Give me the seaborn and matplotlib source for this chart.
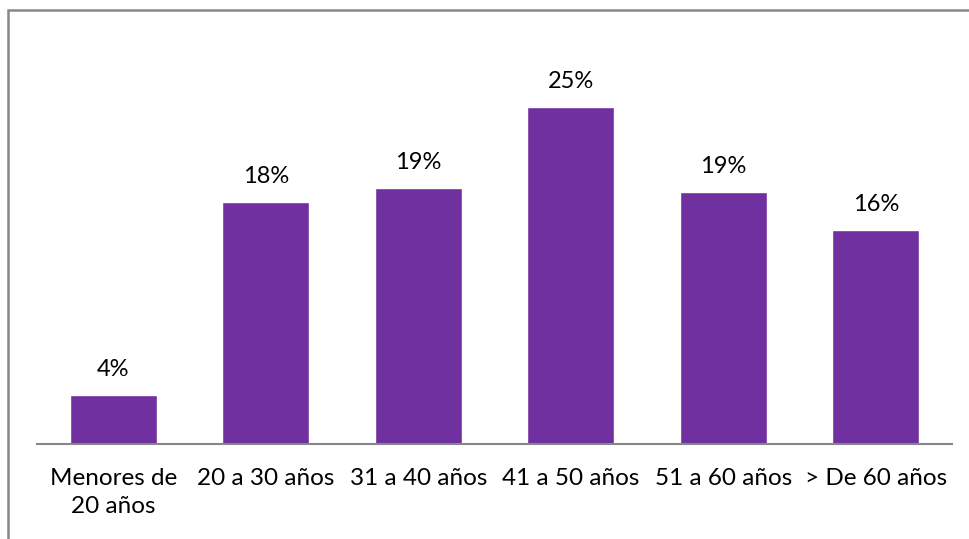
import matplotlib
matplotlib.use("Agg")
import matplotlib.pyplot as plt
from matplotlib.patches import Rectangle
import seaborn as sns
import pandas as pd

# Age groups and their share of respondents (%)
categories = ["Menores de\n20 años", "20 a 30 años", "31 a 40 años",
              "41 a 50 años", "51 a 60 años", "> De 60 años"]
shares = [3.64, 17.95, 18.99, 25.0, 18.71, 15.87]

bar_color = "#7030A0"
line_gray = "#878787"

sns.set_theme(style="white")
plt.rcParams["font.family"] = ["Lato", "DejaVu Sans"]

W, H = 970, 539
fig = plt.figure(figsize=(W / 100, H / 100), dpi=100)

# plot area in pixel terms
left_px, right_px, base_px, top_px = 37, 952, 444, 20
ax = fig.add_axes([left_px / W, 1 - base_px / H,
                   (right_px - left_px) / W, (base_px - top_px) / H])

df = pd.DataFrame({"grupo": categories, "pct": shares})
sns.barplot(data=df, x="grupo", y="pct", color=bar_color, saturation=1,
            width=0.57, ax=ax)

px_per_unit = 336.7 / 25.0
ax.set_ylim(0, (base_px - top_px) / px_per_unit)
ax.set_xlim(-0.5, len(categories) - 0.5)

for i, v in enumerate(shares):
    ax.annotate(f"{v:.0f}%", xy=(i, v), xytext=(0, 14), textcoords="offset points",
                ha="center", va="baseline", fontsize=17, color="black")

ax.set_xlabel("")
ax.set_ylabel("")
ax.set_yticks([])
ax.tick_params(axis="x", length=0, pad=17.5, labelsize=17.5, labelcolor="black")
for lbl in ax.get_xticklabels():
    lbl.set_linespacing(1.38)

for side in ["top", "right", "left"]:
    ax.spines[side].set_visible(False)
ax.spines["bottom"].set_color(line_gray)
ax.spines["bottom"].set_linewidth(1.5)

# chart frame: left and top edges
fig.add_artist(Rectangle((8 / W, -0.1), 1.2, 1 - 9.5 / H + 0.1,
                         transform=fig.transFigure, fill=False,
                         edgecolor=line_gray, linewidth=1.8))

fig.savefig("out.png", dpi=100)
